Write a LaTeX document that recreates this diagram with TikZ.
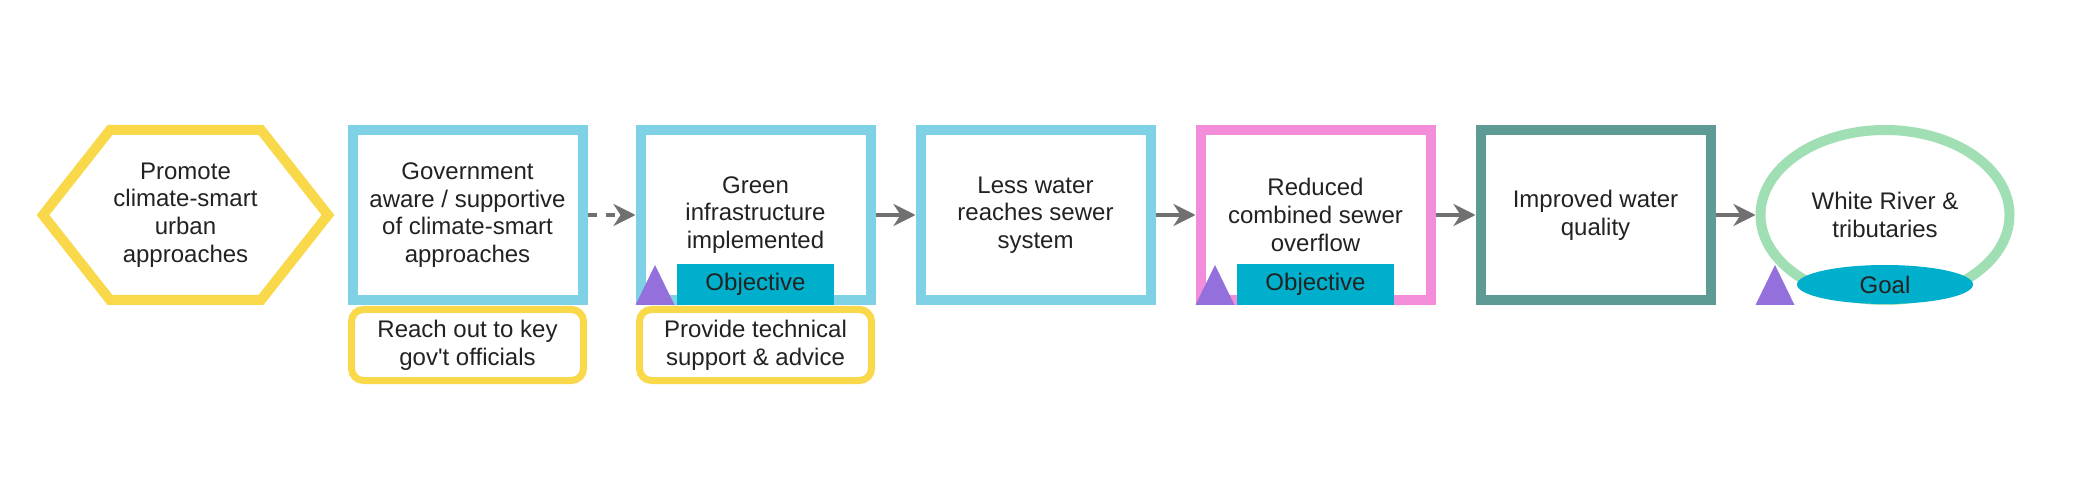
\documentclass[tikz,border=0pt]{standalone}
\usepackage{fontspec}
\setmainfont{Liberation Sans}[Ligatures=TeXOff]
\usetikzlibrary{positioning,arrows.meta,shapes.geometric}
\definecolor{boxblue}{HTML}{7FD1E6}
\definecolor{actyellow}{HTML}{F9D84A}
\definecolor{overpink}{HTML}{F38CD9}
\definecolor{qualteal}{HTML}{5E9B94}
\definecolor{rivergreen}{HTML}{A0DFB4}
\definecolor{tagcyan}{HTML}{00AFCB}
\definecolor{flagpurple}{HTML}{9370DB}
\definecolor{linkgray}{HTML}{707070}
\definecolor{txtgray}{HTML}{222222}
\begin{document}
\begin{tikzpicture}[x=1pt,y=1pt,
node distance=50pt,
every node/.style={font=\fontsize{24}{27.7}\selectfont, text=txtgray, align=center, inner sep=0pt, outer sep=0pt},
stepbox/.style={draw=#1, line width=10pt, minimum width=230pt, minimum height=170pt},
actbox/.style={draw=actyellow, line width=7pt, rounded corners=12pt, minimum width=232pt, minimum height=71pt},
tagbox/.style={fill=tagcyan, minimum width=157pt, minimum height=41pt, anchor=south},
link/.style={draw=linkgray, line width=4.5pt, -{Stealth[length=22pt,width=22pt,inset=7pt]}, shorten <=5pt, shorten >=5pt}]
\fill[white] (0,0) rectangle (2080,477);

\node[stepbox=boxblue] (gov) at (467.5,262) {Government\\aware / supportive\\of climate-smart\\approaches};
\node[minimum width=285pt, minimum height=170pt, left=24.5pt of gov] (promote) {Promote\\climate-smart\\urban\\approaches};
\draw[actyellow, line width=10pt] (promote.west) -- ([xshift=67pt]promote.north west)
  -- ([xshift=-67pt]promote.north east) -- (promote.east)
  -- ([xshift=-67pt]promote.south east) -- ([xshift=67pt]promote.south west) -- cycle;
\node[stepbox=boxblue, right=58pt of gov] (green) {Green\\infrastructure\\implemented};
\node[stepbox=boxblue, right=of green] (water) {Less water\\reaches sewer\\system};
\node[stepbox=overpink, right=of water] (overflow) {Reduced\\combined sewer\\overflow};
\node[stepbox=qualteal, right=of overflow] (quality) {Improved water\\quality};
\node[ellipse, draw=rivergreen, line width=10pt, minimum width=249pt, minimum height=170pt, right=of quality] (river) {White River \&\\tributaries};

\node[actbox, below=9.5pt of gov] (reach) {Reach out to key\\gov't officials};
\node[actbox, below=9.5pt of green] (support) {Provide technical\\support \& advice};

\node[tagbox] (objgreen) at ([yshift=-5pt]green.south) {Objective};
\node[tagbox] (objoverflow) at ([yshift=-5pt]overflow.south) {Objective};
\node[ellipse, fill=tagcyan, minimum width=176pt, minimum height=39pt, anchor=south] (goal) at ([yshift=-4pt]river.south) {Goal};

\foreach \b in {green,overflow}
  \fill[flagpurple] ([shift={(-5pt,-5pt)}]\b.south west) -- ++(39,0) -- ++(-19.5,40) -- cycle;
\fill[flagpurple] ([shift={(-5pt,-90pt)}]river.west) -- ++(39,0) -- ++(-19.5,40) -- cycle;

\draw[link, dash pattern=on 9pt off 9pt] (gov) -- (green);
\draw[link] (green) -- (water);
\draw[link] (water) -- (overflow);
\draw[link] (overflow) -- (quality);
\draw[link] (quality) -- (river);
\end{tikzpicture}
\end{document}
